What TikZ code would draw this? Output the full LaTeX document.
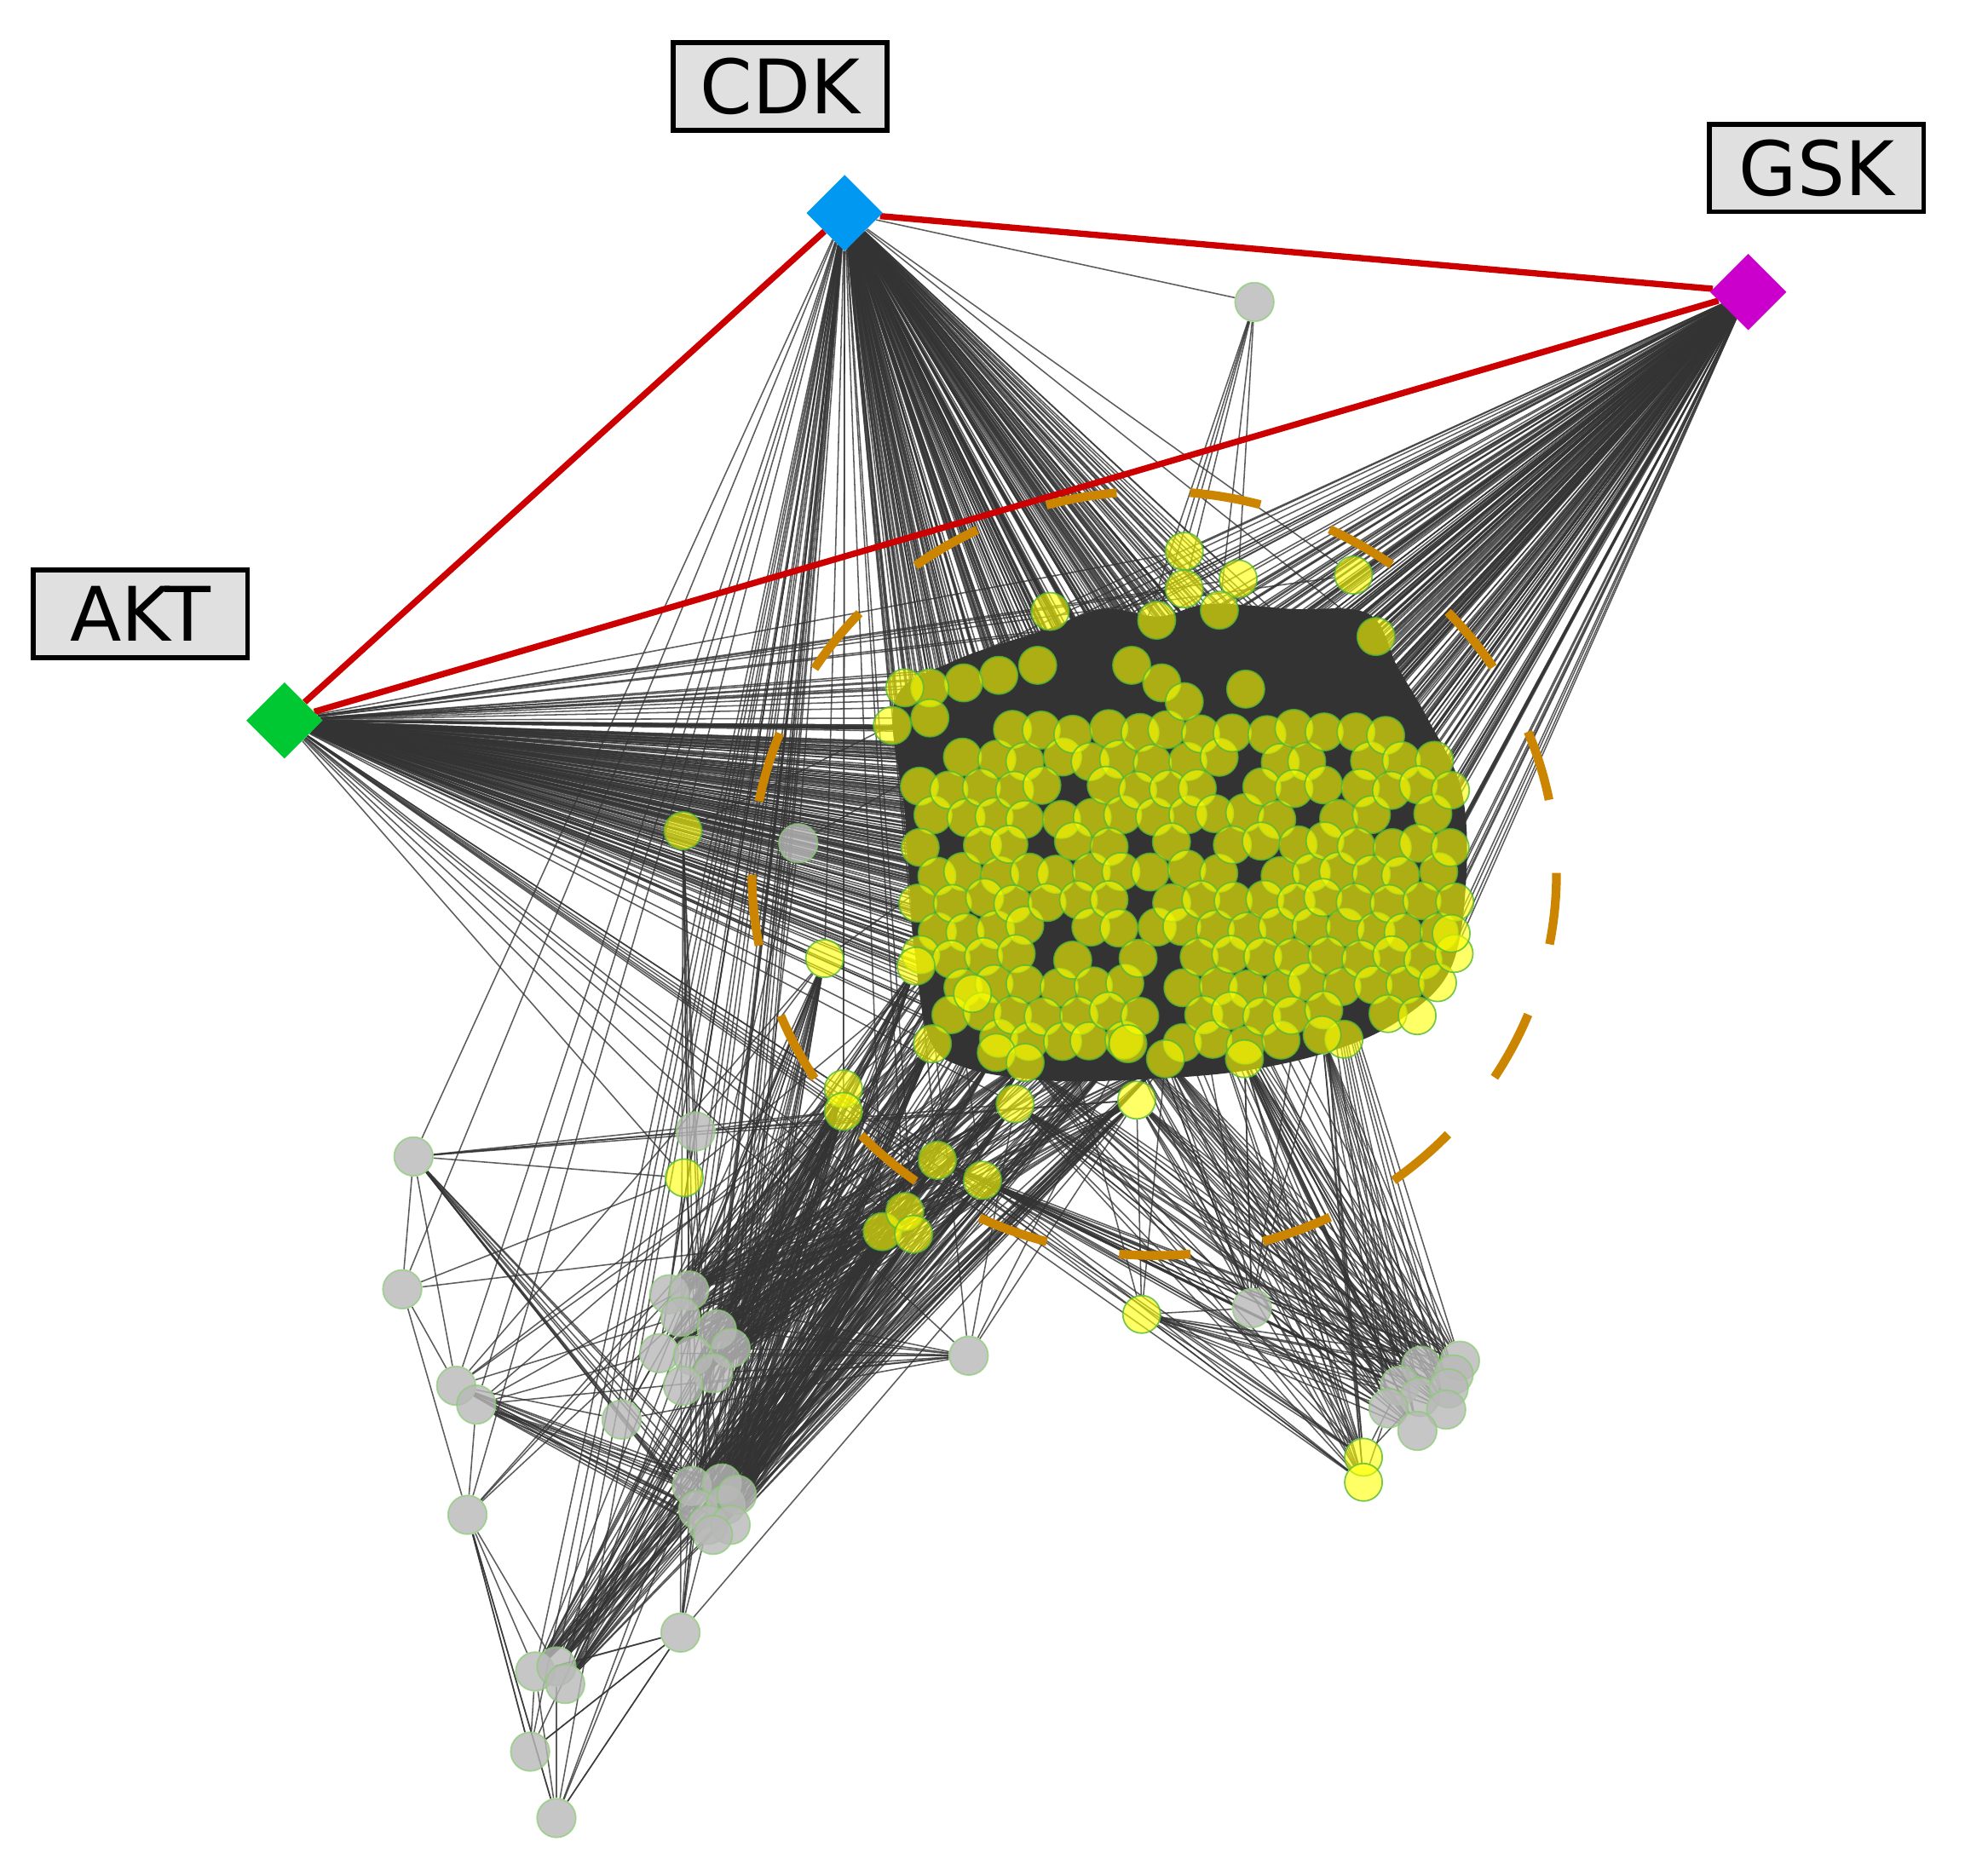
\documentclass[tikz,border=0pt]{standalone}
\usepackage{fontspec}
\setmainfont{DejaVu Sans}
\usetikzlibrary{shapes.geometric}
\pgfdeclarelayer{edg}
\pgfdeclarelayer{mid}
\pgfdeclarelayer{top}
\pgfsetlayers{edg,mid,main,top}
\definecolor{cdkblue}{HTML}{0098F0}
\definecolor{gskmag}{HTML}{CC00CC}
\definecolor{aktgreen}{HTML}{00C832}
\definecolor{hubred}{HTML}{CC0000}
\definecolor{ringor}{HTML}{CC8500}
\definecolor{edgedark}{HTML}{333333}
\definecolor{labelgray}{HTML}{E0E0E0}
\definecolor{nodegreen}{HTML}{55B833}
\definecolor{graynode}{HTML}{B8B8B8}
\definecolor{yel}{HTML}{FFFF00}
\tikzset{
 hub/.style={diamond, inner sep=0pt, minimum width=61pt, minimum height=61pt},
 lab/.style={draw=black, line width=4pt, fill=labelgray, minimum width=171pt, minimum height=70pt, inner sep=0pt, font=\fontsize{60}{72}\selectfont},
 ynode/.style={circle, inner sep=0pt, minimum size=30pt, fill=yel, fill opacity=0.6, draw=nodegreen, draw opacity=0.8, line width=1.2pt},
 gnode/.style={circle, inner sep=0pt, minimum size=31pt, fill=graynode, fill opacity=0.8, draw=nodegreen!70, draw opacity=0.7, line width=1.2pt},
 lnk/.style={draw=edgedark, line width=1.05pt, draw opacity=0.8},
 redline/.style={draw=hubred, line width=5pt},
 ring/.style={draw=ringor, line width=7pt, dash pattern=on 57pt off 58.7pt},
}
\begin{document}
\begin{tikzpicture}[x=1pt,y=-1pt]
\useasboundingbox (0,0) rectangle (1568,1497);
% hubs and labels
\begin{pgfonlayer}{top}
\node[hub, fill=cdkblue] (cdk) at (674,170) {};
\node[hub, fill=gskmag] (gsk) at (1395,233) {};
\node[hub, fill=aktgreen] (akt) at (227,575) {};
\node[lab] (cdkl) at (622.5,69) {CDK};
\node[lab] (gskl) at (1449.5,134) {GSK};
\node[lab] (aktl) at (112,490) {AKT};
\end{pgfonlayer}
% interior end points inside the cluster
\coordinate (yS) at (850,700);
\coordinate (yT) at (950,760);
\coordinate (yU) at (1050,720);
\coordinate (yX) at (800,700);
% dense core of the cluster
\begin{pgfonlayer}{edg}
\fill[edgedark] plot[smooth cycle, tension=0.6] coordinates {(714,560) (760,528) (836,502) (880,486) (925,492) (965,482) (1030,486) (1092,490) (1115,532) (1140,575) (1166,630) (1170,700) (1158,772) (1120,812) (1065,838) (990,855) (900,862) (830,862) (770,852) (742,830) (730,760) (722,650)};
\end{pgfonlayer}
% cluster grid
\pgfmathsetseed{11}
\foreach \i in {0,...,17}{
 \foreach \j in {0,...,11}{
  \pgfmathsetmacro\px{733+25*\i+12.5*mod(\j,2)+3*rand}
  \pgfmathsetmacro\py{584+22.5*\j+3*rand}
  \pgfmathtruncatemacro\keep{((abs(\px-948)/222)^4+(abs(\py-705)/132)^4<1)&&(rnd>0.12)}
  \ifnum\keep=1
   \node[ynode] (c\i-\j) at (\px,\py) {};
   \begin{pgfonlayer}{edg}
    \draw[lnk] (c\i-\j) -- (cdk) (c\i-\j) -- (akt) (c\i-\j) -- (gsk);
   \end{pgfonlayer}
  \fi
 }
}
% explicit yellow nodes
\foreach \n/\x/\y in {ya/945/440, yb/988/462, yc/1080/459, yd/945/470, ye/973/487, yf/923/495, yg/838/488, yh/1098/508, yi/994/550, yj/903/531, yk/927/545, yl/945/560, ym/828/531, yn/797/539, yo/769/545, yp/742/549, yq/722/549, yr/712/579, ys/742/573, yt/545/663, yu/658/765, yv/731/771, yw/776/793, yx/744/833, yy/795/840, yz/818/848, yA/900/833, yB/930/845, yC/993/845, yD/1055/826, yE/1158/745, yF/673/869, yG/673/887, yH/810/881, yI/907/878, yJ/748/926, yK/784/942, yL/546/940, yM/704/983, yN/722/967, yO/729/985, yP/911/1049, yQ/1088/1163, yR/1088/1183}
 {\node[ynode] (\n) at (\x,\y) {};}
% gray nodes
\foreach \n/\x/\y in {g1/1001/241, g2/637/673, g3/330/923, g4/555/903, g5/321/1029, g6/773/1082, g7/999/1044, g8/364/1106, g9/380/1121, g10/496/1133, g11/373/1209, g12/543/1303, g13/427/1334, g14/444/1330, g15/451/1344, g16/423/1398, g17/444/1451, a1/534/1033, a2/550/1030, a3/543/1051, a4/572/1061, a5/583/1076, a6/526/1080, a7/553/1082, a8/569/1096, a9/545/1106, b1/552/1186, b2/576/1184, b3/557/1205, b4/579/1201, b5/588/1193, b6/565/1217, b7/583/1217, b8/569/1225, r1/1165/1086, r2/1134/1090, r3/1160/1097, r4/1117/1106, r5/1133/1115, r6/1156/1108, r7/1108/1124, r8/1154/1125, r9/1131/1142}
 {\node[gnode] (\n) at (\x,\y) {};}
% connectors
\begin{pgfonlayer}{edg}
\foreach \s in {ya,yb,yc,yd,ye,yf,yg,yh,yi,yj,yk,yl,ym,yn,yo,yp,yq,yr,ys,yt,yu,yv,yw,yx,yy,yz,yA,yB,yC,yD,yE,yF,yG,yH,yI,yJ,yK,yL,yM,yN,yO}
 {\draw[lnk] (\s) -- (cdk) (\s) -- (akt) (\s) -- (gsk);}
\foreach \s in {a1,a2,a3,a4,a5,a6,a7,a8,a9,b1,b2,b3,b4,b5,b6,b7,b8,g13,g14,g15}{
 \draw[lnk] (\s) -- (cdk);
 \foreach \t in {yF,yG,yH,yI,yu,yv,yx,yy,yz,yA,yB,yJ,yK,yM,yN,yO,yS,yT,yX}
  {\draw[lnk] (\s) -- (\t);}
}
\foreach \s in {r1,r2,r3,r4,r5,r6,r7,r8,r9,yQ,yR,g7}{
 \foreach \t in {cdk,yA,yB,yC,yD,yI,yH,yz,yK,yJ,yT,yU,yP}
  {\draw[lnk] (\s) -- (\t);}
}
\foreach \s/\t in {yP/cdk, yP/akt, yP/yI, yP/yB, yQ/akt, yR/akt, yQ/r4, yR/r7, yQ/r5,
 g1/cdk, g1/ya, g1/yd, g1/yf, g1/yj, g1/yb, g1/ye,
 g2/cdk, g2/akt, g2/gsk, g2/a2, g2/b2,
 g3/cdk, g3/g4, g3/yL, g3/yG, g3/yH, g3/yI, g3/g5, g3/g8, g3/g10, g3/b1, g3/b2, g3/b3, g3/b4, g3/b5, g3/b6, g3/b7, g3/b8,
 g4/cdk, g4/akt, g4/yG, g4/yI, g4/yu,
 g5/cdk, g5/yL, g5/g8, g5/g11, g5/yM,
 g6/cdk, g6/akt, g6/yI, g6/yH, g6/yA, g6/a1, g6/a3, g6/a4, g6/a5, g6/a6, g6/a7, g6/a8, g6/a9, g6/g10, g6/g9,
 g7/cdk, g7/yC,
 g8/cdk, g8/b1, g8/b2, g8/b3, g8/b4, g8/b5, g8/b6, g8/b7, g8/b8, g8/g10, g8/yF, g8/yG, g8/yu, g8/a3,
 g9/cdk, g9/b1, g9/b2, g9/b3, g9/b4, g9/b5, g9/b6, g9/b7, g9/b8, g9/yF, g9/yH, g9/a6,
 g10/cdk, g10/a1, g10/a3, g10/a6, g10/b1, g10/b3,
 g11/cdk, g11/g13, g11/g14, g11/g16, g11/g17, g11/g9, g11/a3, g11/yF, g11/yG,
 g12/yt, g12/g13, g12/g14, g12/g16, g12/g17, g12/b1, g12/b3, g12/b6, g12/cdk, g12/a4, g12/yI,
 g16/g11, g16/g13, g16/g12, g16/cdk, g16/yF,
 g17/g11, g17/g13, g17/g14, g17/g12, g17/a5, g17/yG, g17/cdk,
 yt/b1, yt/b3, yt/b6, yt/b8, yt/a2, yL/b2, yL/a1}
 {\draw[lnk] (\s) -- (\t);}
\end{pgfonlayer}
% kinase links and highlighted region
\begin{pgfonlayer}{mid}
\draw[redline] (cdk) -- (gsk);
\draw[redline] (cdk) -- (akt);
\draw[redline] (akt) -- (gsk);
\draw[ring] (921,697) ellipse [x radius=321, y radius=305];
\end{pgfonlayer}
\end{tikzpicture}
\end{document}
